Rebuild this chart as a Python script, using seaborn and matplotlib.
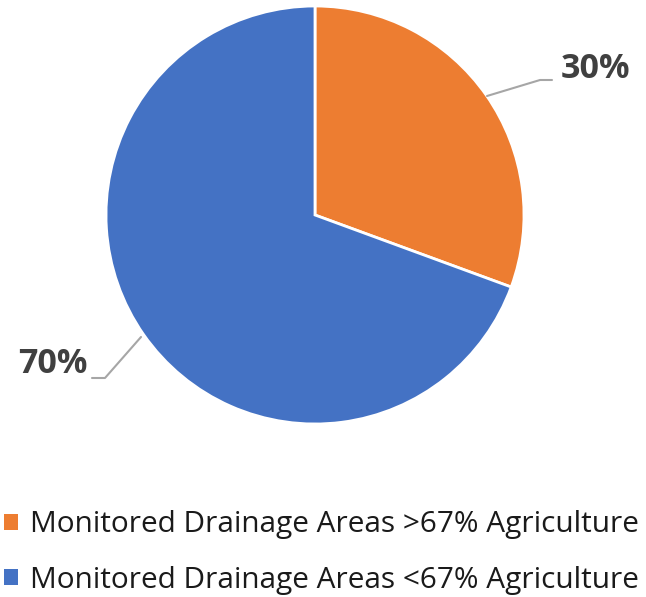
import matplotlib
matplotlib.use("Agg")
import matplotlib.pyplot as plt
import seaborn as sns
from matplotlib.patches import Patch

labels = ['Monitored Drainage Areas >67% Agriculture',
          'Monitored Drainage Areas <67% Agriculture']
shares = [30.6, 69.4]  # slice sizes (labels are rounded)
pct_text = ['30%', '70%']
colors = ['#ED7D31', '#4472C4']

sns.set_style('white')
plt.rcParams['font.family'] = ['Open Sans', 'DejaVu Sans']

W, H = 646, 597
fig = plt.figure(figsize=(W / 100, H / 100), dpi=100)

cx, cy, r = 315, 215, 209
ax = fig.add_axes([(cx - r) / W, (H - cy - r) / H, 2 * r / W, 2 * r / H])
wedges, _ = ax.pie(shares, colors=colors, startangle=90, counterclock=False,
                   radius=1, wedgeprops=dict(edgecolor='white', linewidth=2))
ax.set_xlim(-1, 1)
ax.set_ylim(-1, 1)
ax.axis('off')

def px(x, y):
    return ((x - cx) / r, (cy - y) / r)

# leader lines and percentage labels
line_kw = dict(color='#A6A6A6', linewidth=1.5, clip_on=False)
p = [px(487, 96), px(540, 80), px(552, 80)]
ax.plot([q[0] for q in p], [q[1] for q in p], **line_kw)
ax.text(*px(561, 69), pct_text[0], fontsize=24.5, fontweight='bold', color='#404040',
        ha='left', va='center')
p = [px(141, 337), px(105, 378), px(92, 378)]
ax.plot([q[0] for q in p], [q[1] for q in p], **line_kw)
ax.text(*px(87, 364), pct_text[1], fontsize=24.5, fontweight='bold', color='#404040',
        ha='right', va='center')

handles = [Patch(facecolor=c, edgecolor='none') for c in colors]
fig.legend(handles, labels, loc='upper left', bbox_to_anchor=(0.0, 1 - 506 / H),
           frameon=False, fontsize=21.4, handlelength=0.45, handleheight=0.45,
           handletextpad=0.4, labelspacing=0.88, borderaxespad=0, borderpad=0.15,
           labelcolor='#1a1a1a')

fig.savefig('out.png', dpi=100)
